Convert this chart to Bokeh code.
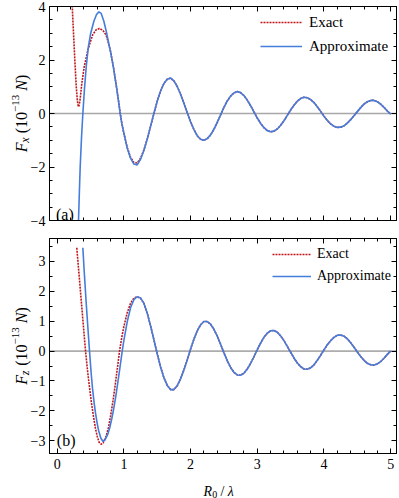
import math
from bokeh.plotting import figure
from bokeh.layouts import column, row
from bokeh.core.properties import value
from bokeh.models import (Range1d, FixedTicker, LinearAxis, Span, Label, Legend,
                          LegendItem, CustomJSTickFormatter)
from bokeh.embed import file_html
from bokeh.resources import INLINE

# ---------------- data ----------------
tail_x = [1.00, 1.05, 1.10, 1.15, 1.20, 1.25, 1.30, 1.35, 1.40, 1.45, 1.50, 1.55, 1.60, 1.65, 1.70,
          1.75, 1.80, 1.85, 1.90, 1.95, 2.00, 2.05, 2.10, 2.15, 2.20, 2.25, 2.30, 2.35, 2.40, 2.45,
          2.50, 2.55, 2.60, 2.65, 2.70, 2.75, 2.80, 2.85, 2.90, 2.95, 3.00, 3.05, 3.10, 3.15, 3.20,
          3.25, 3.30, 3.35, 3.40, 3.45, 3.50, 3.55, 3.60, 3.65, 3.70, 3.75, 3.80, 3.85, 3.90, 3.95,
          4.00, 4.05, 4.10, 4.15, 4.20, 4.25, 4.30, 4.35, 4.40, 4.45, 4.50, 4.55, 4.60, 4.65, 4.70,
          4.75, 4.80, 4.85, 4.90, 4.95, 5.00]

fx_exact_x = [0.215, 0.225, 0.245, 0.265, 0.285, 0.30, 0.31, 0.32, 0.33, 0.345, 0.369, 0.404,
              0.459, 0.50, 0.534, 0.585, 0.634, 0.685, 0.734, 0.77, 0.80, 0.845, 0.89, 0.92,
              0.945, 0.97] + tail_x
fx_exact_y = [4.6, 4.05, 3.0, 1.98, 1.05, 0.56, 0.35, 0.25, 0.31, 0.55, 1.11, 1.73,
              2.35, 2.70, 2.95, 3.13, 3.18, 3.11, 2.93, 2.62, 2.33, 1.72, 0.98, 0.46,
              0.0, -0.38,
              -0.74, -1.27, -1.64, -1.83, -1.85, -1.67, -1.36, -0.95, -0.48, 0.00, 0.46, 0.84,
              1.12, 1.28, 1.32, 1.22, 1.01, 0.72, 0.38, 0.03, -0.31, -0.60, -0.83, -0.96, -1.00,
              -0.94, -0.80, -0.59, -0.33, -0.05, 0.23, 0.47, 0.65, 0.77, 0.82, 0.78, 0.67, 0.50,
              0.29, 0.06, -0.17, -0.37, -0.53, -0.64, -0.68, -0.66, -0.58, -0.44, -0.27, -0.07,
              0.13, 0.31, 0.46, 0.56, 0.61, 0.59, 0.52, 0.41, 0.25, 0.08, -0.10, -0.26, -0.39,
              -0.48, -0.52, -0.51, -0.46, -0.36, -0.23, -0.08, 0.07, 0.22, 0.35, 0.44, 0.49,
              0.49, 0.44, 0.35, 0.23, 0.09, -0.02]

fx_approx_x = [0.315, 0.32, 0.332, 0.345, 0.365, 0.385, 0.41, 0.435, 0.465, 0.50, 0.55, 0.59,
               0.625, 0.66, 0.70, 0.745, 0.80, 0.845, 0.89, 0.92, 0.945, 0.97] + tail_x
fx_approx_y = [-4.5, -4.0, -3.0, -2.0, -0.9, 0.0, 0.95, 1.73, 2.45, 2.97, 3.45, 3.70,
               3.80, 3.74, 3.45, 2.97, 2.30, 1.70, 0.98, 0.46, 0.0, -0.38,
               -0.74, -1.29, -1.67, -1.89, -1.92, -1.71, -1.38, -0.96, -0.48, 0.00, 0.46, 0.84,
               1.12, 1.28, 1.33, 1.22, 1.01, 0.72, 0.38, 0.03, -0.31, -0.60, -0.83, -0.96, -1.00,
               -0.94, -0.80, -0.59, -0.33, -0.05, 0.23, 0.47, 0.65, 0.77, 0.82, 0.78, 0.67, 0.50,
               0.29, 0.06, -0.17, -0.37, -0.53, -0.64, -0.68, -0.66, -0.58, -0.44, -0.27, -0.07,
               0.13, 0.31, 0.46, 0.56, 0.61, 0.59, 0.52, 0.41, 0.25, 0.08, -0.10, -0.26, -0.39,
               -0.48, -0.52, -0.51, -0.46, -0.36, -0.23, -0.08, 0.07, 0.22, 0.35, 0.44, 0.49,
               0.49, 0.44, 0.35, 0.23, 0.09, -0.02]

fz_tail_x = tail_x[6:]
fz_tail_y = [1.60, 1.27, 0.85, 0.38, -0.09, -0.53, -0.89, -1.15, -1.29, -1.29, -1.16, -0.93,
             -0.63, -0.29, 0.07, 0.40, 0.68, 0.88, 0.99, 0.99, 0.90, 0.73, 0.50, 0.23, -0.06,
             -0.32, -0.55, -0.71, -0.80, -0.81, -0.74, -0.60, -0.41, -0.19, 0.05, 0.27, 0.46,
             0.60, 0.68, 0.69, 0.63, 0.51, 0.35, 0.16, -0.04, -0.23, -0.40, -0.52, -0.60, -0.61,
             -0.56, -0.46, -0.31, -0.14, 0.04, 0.21, 0.35, 0.46, 0.53, 0.54, 0.50, 0.41, 0.28,
             0.13, -0.03, -0.18, -0.31, -0.41, -0.46, -0.47, -0.43, -0.35, -0.24, -0.11, 0.01]

fz_exact_x = [0.294, 0.32, 0.345, 0.37, 0.40, 0.425, 0.455, 0.485, 0.515, 0.545, 0.575, 0.60,
              0.63, 0.66, 0.69, 0.735, 0.77, 0.80, 0.835, 0.865, 0.90, 0.935, 0.97, 1.00, 1.05,
              1.10, 1.15, 1.20, 1.25] + fz_tail_x
fz_exact_y = [3.46, 2.77, 2.11, 1.45, 0.66, 0.0, -0.65, -1.22, -1.75, -2.20, -2.60, -2.85,
              -3.06, -3.12, -3.07, -2.85, -2.55, -2.18, -1.70, -1.22, -0.62, 0.0, 0.48, 0.82, 1.28,
              1.60, 1.77, 1.82, 1.77] + fz_tail_y

fz_approx_x = [0.385, 0.41, 0.435, 0.46, 0.485, 0.51, 0.53, 0.555, 0.575, 0.60, 0.62, 0.655,
               0.685, 0.715, 0.76, 0.79, 0.82, 0.85, 0.88, 0.93, 0.975, 1.00, 1.05, 1.10, 1.15,
               1.20, 1.25] + fz_tail_x
fz_approx_y = [3.46, 2.50, 1.62, 0.80, 0.0, -0.75, -1.25, -1.75, -2.08, -2.42, -2.65, -2.92,
               -3.02, -2.98, -2.78, -2.55, -2.25, -1.90, -1.50, -0.73, 0.0, 0.36, 0.98, 1.45, 1.72,
               1.82, 1.78] + fz_tail_y

x_tick_values = [0, 1, 2, 3, 4, 5]
x_minor_values = [0.2, 0.4, 0.6, 0.8, 1.2, 1.4, 1.6, 1.8, 2.2, 2.4, 2.6, 2.8, 3.2, 3.4, 3.6,
                  3.8, 4.2, 4.4, 4.6, 4.8]
fx_tick_values = [-4, -2, 0, 2, 4]
fx_tick_labels = ["\u22124", "\u22122", "0", "2", "4"]
fx_minor_values = [-3.5, -3, -2.5, -1.5, -1, -0.5, 0.5, 1, 1.5, 2.5, 3, 3.5]
fz_tick_values = [-3, -2, -1, 0, 1, 2, 3]
fz_tick_labels = ["\u22123", "\u22122", "\u22121", "0", "1", "2", "3"]
fz_minor_values = [-2.5, -1.5, -0.5, 0.5, 1.5, 2.5, 3.5]
series_labels = ["Exact", "Approximate"]
panel_tags = ["(a)", "(b)"]

# ---------------- layout / style ----------------
FONT = "Liberation Serif"
RED = "#c0161b"
BLUE = "#447ddc"
W = 399
STRIP_W = 48                 # left strip: rotated y label + y tick labels
X_RANGE = (-0.115, 5.087)
FRAME_L, FRAME_R = 49, 396   # page x of the frame edges


def px_to_x(px):
    return X_RANGE[0] + (px - FRAME_L) * (X_RANGE[1] - X_RANGE[0]) / (FRAME_R - FRAME_L)


def make_py_to_y(top, bottom, lo, hi):
    return lambda py: hi - (py - top) * (hi - lo) / (bottom - top)


def style_axis(ax, labelled, standoff):
    ax.axis_line_color = "black"
    ax.axis_line_width = 1
    ax.major_tick_line_color = "black"
    ax.minor_tick_line_color = "black"
    ax.major_tick_in = 5
    ax.major_tick_out = 0
    ax.minor_tick_in = 3
    ax.minor_tick_out = 0
    if labelled:
        ax.formatter = CustomJSTickFormatter(
            code="return tick < 0 ? '\\u2212' + Math.abs(tick) : String(tick);")
        ax.major_label_text_font = FONT
        ax.major_label_text_font_size = "14px"
        ax.major_label_text_color = "black"
        ax.major_label_standoff = standoff
    else:
        ax.formatter = CustomJSTickFormatter(code="return '';")
        ax.major_label_text_font_size = "0px"
        ax.major_label_standoff = 0


def make_panel(height, b_top, b_bottom, y_lo, y_hi, yticks, yminor, show_x):
    p = figure(width=W - STRIP_W, height=height, x_range=Range1d(*X_RANGE),
               y_range=Range1d(y_lo, y_hi),
               output_backend="svg", toolbar_location=None, title=None,
               x_axis_type=None, y_axis_type=None,
               min_border_left=FRAME_L - STRIP_W, min_border_right=W - FRAME_R,
               min_border_top=b_top, min_border_bottom=b_bottom)
    p.outline_line_color = "black"
    p.outline_line_width = 1
    p.background_fill_color = "white"
    p.border_fill_color = "white"
    xt = FixedTicker(ticks=x_tick_values, minor_ticks=x_minor_values)
    yt = FixedTicker(ticks=yticks, minor_ticks=yminor)
    for loc, ticker, lab, so in [("below", xt, show_x, 5), ("above", xt, False, 0),
                                 ("left", yt, False, 0), ("right", yt, False, 0)]:
        ax = LinearAxis(ticker=ticker)
        style_axis(ax, lab, so)
        p.add_layout(ax, loc)
    return p


def make_strip(width, height, y_lo=0.0, y_hi=None):
    s = figure(width=width, height=height, x_range=Range1d(0, width),
               y_range=Range1d(y_lo, height if y_hi is None else y_hi),
               output_backend="svg", toolbar_location=None, title=None,
               x_axis_type=None, y_axis_type=None,
               min_border_left=0, min_border_right=0, min_border_top=0, min_border_bottom=0)
    s.outline_line_color = None
    s.background_fill_color = "white"
    s.border_fill_color = "white"
    return s


def strip_text(s, xs, ys, txt, size, fstyle, angle=0.0, align="left", baseline="alphabetic"):
    s.text(x=xs, y=ys, text=txt, angle=angle, text_font=value(FONT),
           text_font_size=value(f"{size}px"), text_font_style=value(fstyle),
           text_align=align, text_baseline=baseline, text_color="black")


def add_series(p, ex, ey, ax_, ay, zero_color, zero_width, legend_loc, glyph_w, standoff,
               spacing, font_size):
    p.add_layout(Span(location=0, dimension="width", line_color=zero_color,
                      line_width=zero_width, level="underlay"))
    r_ex = p.line(ex, ey, line_color=RED, line_width=1.6, line_dash="2 1")
    r_ap = p.line(ax_, ay, line_color=BLUE, line_width=1.6)
    leg = Legend(items=[LegendItem(label=value(series_labels[0]), renderers=[r_ex]),
                        LegendItem(label=value(series_labels[1]), renderers=[r_ap])],
                 location=legend_loc, orientation="vertical", glyph_width=glyph_w,
                 glyph_height=20, label_height=20, label_standoff=standoff, spacing=spacing,
                 padding=0, margin=0, border_line_color=None, background_fill_alpha=0,
                 label_text_font=FONT, label_text_font_size=font_size,
                 label_text_color="black")
    p.add_layout(leg)


def left_strip(height, to_y, sub, center_py, tick_vals, tick_labels, x_main=21):
    # strip canvas == frame; its y range is the panel's scale extended to the canvas edges
    s = make_strip(STRIP_W, height, to_y(height), to_y(0))
    # y tick labels, placed through the shared scale
    strip_text(s, [45] * len(tick_vals), tick_vals, tick_labels, 14, "normal",
               align="right", baseline="middle")
    # rotated axis title  F_sub (10^-13 N), text runs bottom -> top
    pieces = [("F", 16, "italic", 0, 0.0), (sub, 12, "italic", 3, 9.6),
              ("(10", 16, "normal", 0, 19.0), ("\u221213", 11, "normal", -6, 40.3),
              ("N", 16, "italic", 0, 61.5), (")", 16, "normal", 0, 72.2)]
    total = 77.5
    start = center_py + total / 2
    for txt, size, fstyle, dx, off in pieces:
        strip_text(s, [x_main + dx], [to_y(start - off)], [txt], size, fstyle, math.pi / 2)
    return s


def add_tag(p, px, y, txt):
    p.add_layout(Label(x=px_to_x(px), y=y, text=txt, text_font=FONT, text_font_size="16px",
                       text_align="left", text_baseline="alphabetic", text_color="black"))


# ---- top panel (a): page y 0..229, frame 6..220 ----
H_TOP = 229
TOP_T, TOP_B = 6, 220
FX_LO, FX_HI = -4.0, 4.0
p1 = make_panel(H_TOP, TOP_T, H_TOP - TOP_B, FX_LO, FX_HI, fx_tick_values, fx_minor_values, False)
add_series(p1, fx_exact_x, fx_exact_y, fx_approx_x, fx_approx_y, "#a8a8a8", 1.6,
           (211, 164), 42, 7, 4, "15px")
top_y = make_py_to_y(TOP_T, TOP_B, FX_LO, FX_HI)
add_tag(p1, 55.5, top_y(213.5), panel_tags[0])
s1 = left_strip(H_TOP, top_y, "x", (TOP_T + TOP_B) / 2, fx_tick_values, fx_tick_labels)

# ---- bottom panel (b): page y 229..478, frame 238..453 ----
H_BOT = 249
BOT_T, BOT_B = 9, 224
FZ_LO, FZ_HI = -3.43, 3.77
p2 = make_panel(H_BOT, BOT_T, H_BOT - BOT_B, FZ_LO, FZ_HI, fz_tick_values, fz_minor_values, True)
add_series(p2, fz_exact_x, fz_exact_y, fz_approx_x, fz_approx_y, "#6e6e6e", 1.0,
           (223, 167), 39, 6, 2, "14px")
bot_y = make_py_to_y(BOT_T, BOT_B, FZ_LO, FZ_HI)
add_tag(p2, 56.3, bot_y(439.5 - H_TOP), panel_tags[1])
s2 = left_strip(H_BOT, bot_y, "z", (BOT_T + BOT_B) / 2, fz_tick_values, fz_tick_labels)

# ---- x-axis label strip: page y 478..498 ----
H_XL = 20
s3 = make_strip(W, H_XL)
xl_pieces = [("R", 14, "italic", 0, 0.0), ("0", 10, "normal", 3, 8.6),
             ("/", 14, "normal", 0, 17.0), ("\u03bb", 14, "italic", 0, 24.2)]
xl_start = 219 - 31.9 / 2
xl_base = 12.5                   # baseline, px from strip top
for txt, size, fstyle, dy, off in xl_pieces:
    strip_text(s3, [xl_start + off], [H_XL - (xl_base + dy)], [txt], size, fstyle)

# each strip sits in its own column so that the row does not align its frame
# with the neighbouring panel's frame (the strip's frame must fill its canvas)
layout = column(row(column(s1), p1, spacing=0), row(column(s2), p2, spacing=0), s3, spacing=0)

with open("out.html", "w", encoding="utf-8") as f:
    f.write(file_html(layout, INLINE))
